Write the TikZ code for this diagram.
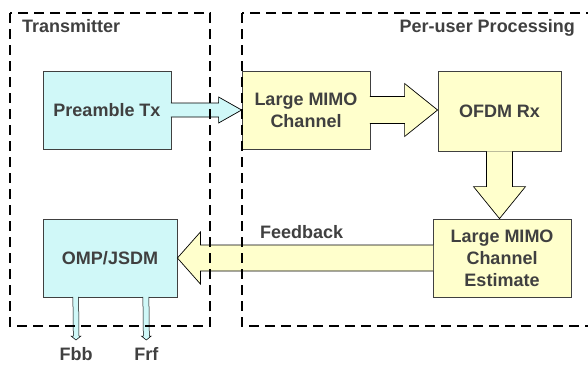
\documentclass[tikz,border=0pt]{standalone}
\usepackage{fontspec}
\setmainfont{Liberation Sans}
\usetikzlibrary{calc}
\definecolor{txt}{HTML}{404040}
\definecolor{cyanfill}{HTML}{D0F8F8}
\definecolor{yelfill}{HTML}{FFFFCC}
\tikzset{
  blk/.style={draw=txt, line width=0.8pt, inner sep=0pt, align=center,
    font=\fontsize{18}{22}\selectfont\bfseries, text=txt},
  txbox/.style={blk, fill=cyanfill},
  rxbox/.style={blk, fill=yelfill},
  barrow/.style={draw=black, line width=0.7pt, line join=miter},
  frame/.style={draw=black, line width=1.2pt, dash pattern=on 10pt off 6pt},
  lbl/.style={inner sep=0pt, font=\fontsize{18}{22}\selectfont\bfseries, text=txt}
}
\begin{document}
\begin{tikzpicture}[x=1pt,y=-1pt]
\useasboundingbox (0,0) rectangle (588,365);
\clip (0,0) rectangle (588,365);
\fill[white] (0,0) rectangle (588,365);
% boxes
\node[txbox, minimum width=128pt, minimum height=78pt] (pre) at (107,110) {Preamble Tx};
\node[rxbox, minimum width=128pt, minimum height=78pt] (ch) at (306,110) {Large MIMO\\Channel};
\node[rxbox, minimum width=123pt, minimum height=80pt] (ofdm) at (499.5,111.5) {OFDM Rx};
\node[rxbox, minimum width=138pt, minimum height=78pt] (est) at (502,258) {Large MIMO\\Channel\\Estimate};
\node[txbox, minimum width=134pt, minimum height=78pt] (omp) at (110,258) {OMP/JSDM};
% block arrows
\draw[barrow, fill=cyanfill] ($(pre.east)+(-0.5,-7)$) -- ($(ch.west)+(-23,-7)$) -- ($(ch.west)+(-23,-13)$) -- (ch.west) -- ($(ch.west)+(-23,13)$) -- ($(ch.west)+(-23,7)$) -- ($(pre.east)+(-0.5,7)$);
\coordinate (ofdmin) at ($(ofdm.west)+(0,-1.5)$);
\draw[barrow, fill=yelfill] ($(ch.east)+(-0.5,-13.5)$) -- ($(ofdmin)+(-33,-13.5)$) -- ($(ofdmin)+(-33,-26.5)$) -- (ofdmin) -- ($(ofdmin)+(-33,26.5)$) -- ($(ofdmin)+(-33,13.5)$) -- ($(ch.east)+(-0.5,13.5)$);
\coordinate (estin) at ($(est.north)+(-2.5,0)$);
\draw[barrow, fill=yelfill] ($(ofdm.south)+(-13,-0.5)$) -- ($(estin)+(-13,-32)$) -- ($(estin)+(-26,-32)$) -- (estin) -- ($(estin)+(26,-32)$) -- ($(estin)+(13,-32)$) -- ($(ofdm.south)+(13,-0.5)$);
\draw[barrow, fill=yelfill] ($(est.west)+(0.5,-13)$) -- ($(omp.east)+(23,-13)$) -- ($(omp.east)+(23,-26)$) -- (omp.east) -- ($(omp.east)+(23,26)$) -- ($(omp.east)+(23,13)$) -- ($(est.west)+(0.5,13)$);
% small output arrows
\coordinate (fbbtip) at (76,340);
\coordinate (frftip) at (146.3,340);
\draw[barrow, line width=0.5pt, fill=cyanfill] ($(omp.south west)+(30.3,-0.5)$) -- ($(fbbtip)+(-2.7,-4)$) -- ($(fbbtip)+(-5,-4)$) -- (fbbtip) -- ($(fbbtip)+(5,-4)$) -- ($(fbbtip)+(3,-4)$) -- ($(omp.south west)+(36,-0.5)$);
\draw[barrow, line width=0.5pt, fill=cyanfill] ($(omp.south west)+(100.3,-0.5)$) -- ($(frftip)+(-3,-4)$) -- ($(frftip)+(-5,-4)$) -- (frftip) -- ($(frftip)+(5,-4)$) -- ($(frftip)+(3,-4)$) -- ($(omp.south west)+(106.3,-0.5)$);
% frames
\draw[frame] (10,13) rectangle (210,326);
\draw[frame] (242,13) rectangle (610,326);
% labels
\node[lbl, anchor=base west] (ltx) at (22,32) {Transmitter};
\node[lbl, anchor=base east] (lpu) at (575,32) {Per-user Processing};
\node[lbl, anchor=base west] (lfb) at (260,238) {Feedback};
\node[lbl, anchor=base] (lfbb) at (fbbtip |- 0,360) {Fbb};
\node[lbl, anchor=base] (lfrf) at (frftip |- 0,360) {Frf};
\end{tikzpicture}
\end{document}
